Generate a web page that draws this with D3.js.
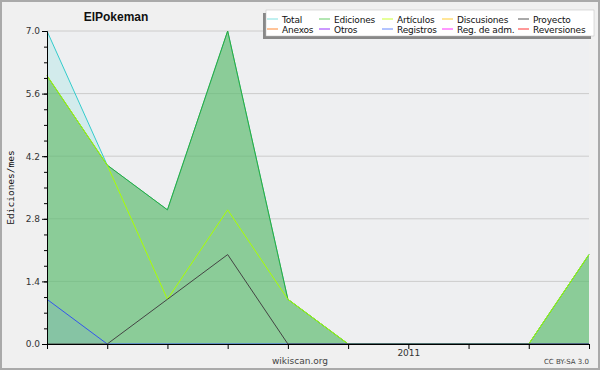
<!DOCTYPE html>
<html>
<head>
<meta charset="utf-8">
<script src="https://cdn.jsdelivr.net/npm/d3@7"></script>
<style>
  body { margin: 0; background: #f0f0f0; }
  svg { display: block; }
</style>
</head>
<body>
<div id="chart"></div>
<script>
// monthly values, jul 2010 .. apr 2011
const MONTHS = ['2010-07', '2010-08', '2010-09', '2010-10', '2010-11', '2010-12', '2011-01', '2011-02', '2011-03', '2011-04'];
const X_LABELS = ['', '', '', '', '', '', '2011', '', '', ''];
const TOTAL = [7, 4, 3, 7, 1, 0, 0, 0, 0, 2];
const EDICIONES = [6, 4, 3, 7, 1, 0, 0, 0, 0, 2];
const ARTICULOS = [6, 4, 1, 3, 1, 0, 0, 0, 0, 2];
const REGISTROS = [1, 0, 0, 0, 0, 0, 0, 0, 0, 0];
const PROYECTO = [0, 0, 1, 2, 0, 0, 0, 0, 0, 0];
const Y_TICKS = [0, 1.4, 2.8, 4.2, 5.6, 7.0];

const LEGEND_NAMES = ['Total', 'Ediciones', 'Artículos', 'Discusiones', 'Proyecto',
                      'Anexos', 'Otros', 'Registros', 'Reg. de adm.', 'Reversiones'];
const LEGEND_COLORS = ['#80e0e0', '#66cc66', '#ccff33', '#ffcc33', '#555555',
                       '#ff8833', '#9933ff', '#6688ff', '#ff33ff', '#ff3333'];

const W = 600, H = 370;
const margin = {left: 47, right: 11, top: 31, bottom: 26};

const svg = d3.select('#chart').append('svg')
  .attr('width', W).attr('height', H);

// background + frame
svg.append('rect').attr('x', 1).attr('y', 1).attr('width', W - 2).attr('height', H - 2)
  .attr('fill', '#f0f0f0').attr('stroke', '#aaaaaa').attr('stroke-width', 2);

const x = d3.scaleLinear().domain([0, MONTHS.length - 1]).range([margin.left, W - margin.right]);
const y = d3.scaleLinear().domain([0, 7]).range([H - margin.bottom, margin.top]);

// plot background
svg.append('rect')
  .attr('x', x(0)).attr('y', y(7))
  .attr('width', x(MONTHS.length - 1) - x(0)).attr('height', y(0) - y(7))
  .attr('fill', '#eeeff1');

// gridlines
svg.append('g').selectAll('line')
  .data(Y_TICKS.slice(1))
  .enter().append('line')
  .attr('x1', x(0)).attr('x2', x(MONTHS.length - 1))
  .attr('y1', d => y(d)).attr('y2', d => y(d))
  .attr('stroke', '#cccccc').attr('stroke-width', 1);

const area = d3.area().x((d, i) => x(i)).y0(y(0)).y1(d => y(d));
const line = d3.line().x((d, i) => x(i)).y(d => y(d));

// filled series
const fills = [
  {data: TOTAL, color: '#66dddd', op: 0.2},
  {data: EDICIONES, color: '#5cb860', op: 0.6},
  {data: REGISTROS, color: '#6688ff', op: 0.12}
];
fills.forEach(f => {
  svg.append('path').datum(f.data)
    .attr('d', area)
    .attr('fill', f.color).attr('fill-opacity', f.op);
});

// lines
const lines = [
  {data: TOTAL, color: '#33cccc'},
  {data: EDICIONES, color: '#33aa33'},
  {data: ARTICULOS, color: '#aaff00'},
  {data: REGISTROS, color: '#3355ee'},
  {data: PROYECTO, color: '#444444'}
];
lines.forEach(l => {
  svg.append('path').datum(l.data)
    .attr('d', line)
    .attr('fill', 'none')
    .attr('stroke', l.color).attr('stroke-width', 1);
});

// y axis: minor + major ticks
svg.append('g')
  .attr('transform', 'translate(' + x(0) + ',0)')
  .call(d3.axisLeft(y).tickValues(d3.range(0, 7.01, 0.35)).tickSize(3).tickFormat(''))
  .call(g => g.select('.domain').remove());
svg.append('g')
  .attr('transform', 'translate(' + x(0) + ',0)')
  .call(d3.axisLeft(y).tickValues(Y_TICKS).tickSize(5).tickPadding(2).tickFormat(d3.format('.1f')))
  .call(g => g.selectAll('text').attr('font-family', 'DejaVu Sans').attr('font-size', 9).attr('fill', '#333'));

// x axis
svg.append('g')
  .attr('transform', 'translate(0,' + y(0) + ')')
  .call(d3.axisBottom(x).tickValues(d3.range(MONTHS.length)).tickSize(5).tickPadding(1)
        .tickFormat(i => X_LABELS[i]))
  .call(g => g.selectAll('text').attr('font-family', 'DejaVu Sans').attr('font-size', 9).attr('fill', '#333'));

svg.selectAll('.domain').attr('stroke', '#000');
svg.selectAll('.tick line').attr('stroke', '#000');

// title and captions
svg.append('text').attr('x', 116).attr('y', 21)
  .attr('text-anchor', 'middle').attr('font-family', 'Liberation Sans').attr('font-weight', 'bold')
  .attr('font-size', 12).attr('fill', '#111').text('ElPokeman');

svg.append('text')
  .attr('transform', 'translate(14,' + ((y(0) + y(7)) / 2) + ') rotate(-90)')
  .attr('text-anchor', 'middle').attr('font-family', 'DejaVu Sans Mono')
  .attr('font-size', 9.5).attr('fill', '#111').text('Ediciones/mes');

svg.append('text').attr('x', 300).attr('y', 364)
  .attr('text-anchor', 'middle').attr('font-family', 'DejaVu Sans')
  .attr('font-size', 9).attr('fill', '#444').text('wikiscan.org');

svg.append('text').attr('x', 589).attr('y', 364)
  .attr('text-anchor', 'end').attr('font-family', 'DejaVu Sans')
  .attr('font-size', 7).attr('fill', '#444').text('CC BY-SA 3.0');

// legend
const lg = svg.append('g').attr('transform', 'translate(266,10)');
lg.append('rect').attr('x', -3).attr('y', 3).attr('width', 328).attr('height', 26).attr('fill', '#888');
lg.append('rect').attr('x', 0).attr('y', 0).attr('width', 328).attr('height', 26)
  .attr('fill', '#ffffff').attr('stroke', '#bbbbbb').attr('stroke-width', 0.5);

const colX = [1, 53, 116, 176, 252];
const item = lg.selectAll('g.item')
  .data(LEGEND_NAMES)
  .enter().append('g')
  .attr('class', 'item')
  .attr('transform', (d, i) => 'translate(' + colX[i % 5] + ',' + (9 + Math.floor(i / 5) * 10) + ')');
item.append('line')
  .attr('x1', 0).attr('x2', 11).attr('y1', 0).attr('y2', 0)
  .attr('stroke', (d, i) => LEGEND_COLORS[i]).attr('stroke-width', 1);
item.append('text')
  .attr('x', 15).attr('y', 3.5)
  .attr('font-family', 'DejaVu Sans').attr('font-size', 9).attr('fill', '#111')
  .attr('letter-spacing', -0.2)
  .text(d => d);
</script>
</body>
</html>
